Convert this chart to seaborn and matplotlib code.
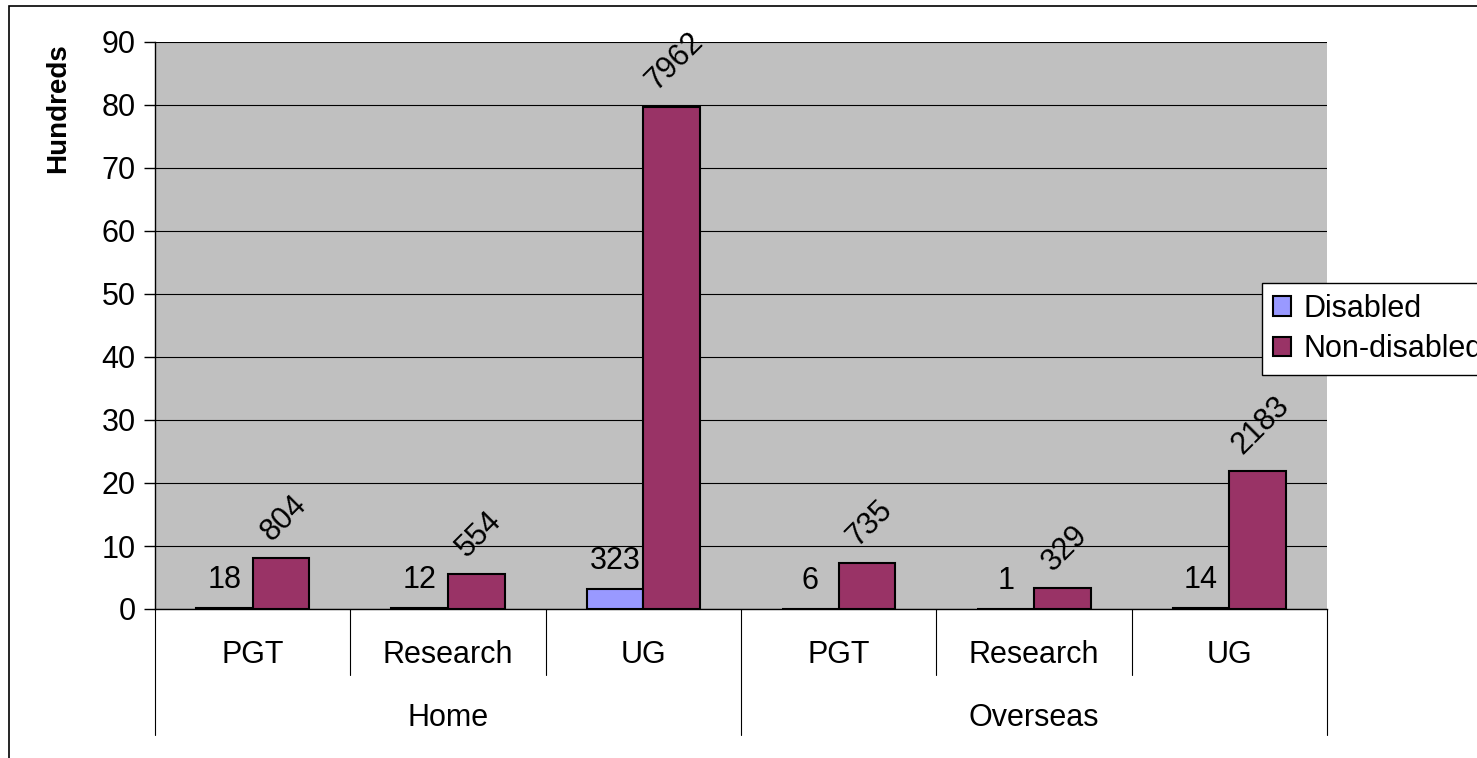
import numpy as np
import pandas as pd
import matplotlib
matplotlib.use('Agg')
import matplotlib.pyplot as plt
import matplotlib.transforms as mtransforms
from matplotlib.patches import Rectangle
import seaborn as sns

# data (raw counts, plotted in hundreds)
regions = ['Home', 'Home', 'Home', 'Overseas', 'Overseas', 'Overseas']
levels = ['PGT', 'Research', 'UG', 'PGT', 'Research', 'UG']
disabled = [18, 12, 323, 6, 1, 14]
non_disabled = [804, 554, 7962, 735, 329, 2183]
series = ['Disabled', 'Non-disabled']
colors = {'Disabled': '#9999FF', 'Non-disabled': '#993366'}
yticks = list(range(0, 91, 10))

cats = [f'{r} {l}' for r, l in zip(regions, levels)]
df = pd.DataFrame({
    'cat': cats * 2,
    'status': [series[0]] * len(cats) + [series[1]] * len(cats),
    'count': disabled + non_disabled,
})
df['hundreds'] = df['count'] / 100

sns.set_style('white')
plt.rcParams['font.family'] = ['Liberation Sans', 'DejaVu Sans']
plt.rcParams['text.color'] = 'black'
plt.rcParams['ytick.color'] = 'black'
plt.rcParams['ytick.labelcolor'] = 'black'
FS = 22

W, H = 1477, 758
fig = plt.figure(figsize=(W / 100, H / 100), dpi=100)
ax = fig.add_axes([155 / W, 1 - 609 / H, (1327 - 155) / W, 567 / H])

sns.barplot(data=df, x='cat', y='hundreds', hue='status', order=cats,
            hue_order=series, palette=colors, saturation=1, width=0.58,
            edgecolor='black', linewidth=1.5, ax=ax)

# value labels
for container, name in zip(ax.containers, series):
    vals = disabled if name == 'Disabled' else non_disabled
    for bar, v in zip(container, vals):
        x = bar.get_x() + bar.get_width() / 2
        y = bar.get_height()
        if name == 'Disabled':
            ax.annotate(str(v), (x, y), xytext=(0, 20), textcoords='offset points',
                        ha='center', va='center', fontsize=FS)
        else:
            ax.annotate(str(v), (x, y), xytext=(2, 8), textcoords='offset points',
                        ha='center', va='bottom', rotation=45, fontsize=FS)

ax.set_facecolor('#C0C0C0')
ax.set_ylim(0, 90)
ax.set_xlim(-0.5, len(cats) - 0.5)
ax.set_yticks(yticks)
ax.yaxis.grid(True, color='black', linewidth=0.8)
ax.set_axisbelow(True)
ax.set_xticks([])
ax.set_xlabel('')
ax.set_ylabel('')
ax.tick_params(axis='y', left=True, length=8, width=1, color='black',
               direction='out', labelsize=FS, pad=6, labelcolor='black')
for s in ['top', 'right']:
    ax.spines[s].set_visible(False)
for s in ['left', 'bottom']:
    ax.spines[s].set_color('black')
    ax.spines[s].set_linewidth(1)

# two-level category axis
trans = mtransforms.blended_transform_factory(ax.transData, ax.transAxes)
for i in range(len(cats) + 1):
    x = i - 0.5
    bottom = -0.222 if i % 3 == 0 else -0.116
    ax.plot([x, x], [0, bottom], transform=trans, color='black', lw=0.8,
            clip_on=False)
for i, lev in enumerate(levels):
    ax.text(i, -0.081, lev, transform=trans, ha='center', va='center', fontsize=FS)
for g, name in enumerate(['Home', 'Overseas']):
    ax.text(g * 3 + 1, -0.192, name, transform=trans, ha='center', va='center',
            fontsize=FS)

fig.text(58 / W, 1 - 108 / H, 'Hundreds', rotation=90, fontweight='bold',
         fontsize=20, ha='center', va='center')

# legend
handles, labels = ax.get_legend_handles_labels()
ax.get_legend().remove()
leg = fig.legend(handles, labels, loc='upper left',
                 bbox_to_anchor=(1262 / W, 1 - 283 / H), frameon=True,
                 fancybox=False, edgecolor='black', framealpha=1, fontsize=FS,
                 handlelength=0.6, handleheight=0.6, handletextpad=0.4,
                 borderpad=0.35, labelspacing=0.35, borderaxespad=0)
leg.get_frame().set_linewidth(1)

# chart border
fig.add_artist(Rectangle((9 / W, -0.5), 2, 1 - 6 / H + 0.5,
                         transform=fig.transFigure, fill=False,
                         edgecolor='black', lw=1.2))

fig.savefig('out.png', dpi=100)
